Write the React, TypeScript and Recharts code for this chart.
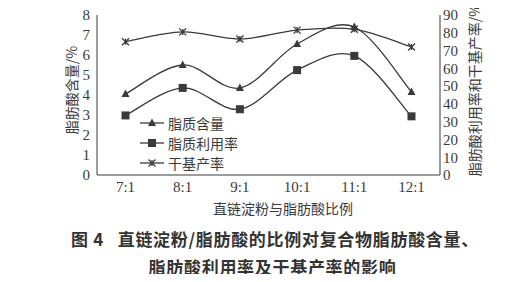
import React from 'react'
import { LineChart, Line, XAxis, YAxis } from 'recharts'

const ratios = ['7:1', '8:1', '9:1', '10:1', '11:1', '12:1']
const fatContent = [4.05, 5.5, 4.35, 6.55, 7.4, 4.15]
const fatUtilization = [33.5, 49, 37, 59, 67, 33]
const dryYield = [75, 80.5, 76.5, 81.5, 82, 72]
const leftTicks = [0, 1, 2, 3, 4, 5, 6, 7, 8]
const rightTicks = [0, 10, 20, 30, 40, 50, 60, 70, 80, 90]
const boundaryTicks = [1, 2, 3, 4, 5]

const data = ratios.map((name, i) => ({
  name,
  fat: fatContent[i],
  util: fatUtilization[i],
  yield: dryYield[i],
}))

const INK = '#3a3a3a'
const serif = '"Liberation Serif", "Times New Roman", serif'
const cjk = '"Noto Sans CJK SC", sans-serif'

// Excel-like smoothing (Catmull-Rom through the points)
const smooth = (context: any) => {
  let pts: number[][] = []
  return {
    areaStart() {},
    areaEnd() {},
    lineStart() { pts = [] },
    point(x: number, y: number) { pts.push([+x, +y]) },
    lineEnd() {
      if (!pts.length) return
      context.moveTo(pts[0][0], pts[0][1])
      for (let i = 0; i < pts.length - 1; i++) {
        const p0 = pts[i - 1] || pts[i]
        const p1 = pts[i]
        const p2 = pts[i + 1]
        const p3 = pts[i + 2] || pts[i + 1]
        context.bezierCurveTo(
          p1[0] + (p2[0] - p0[0]) / 6, p1[1] + (p2[1] - p0[1]) / 6,
          p2[0] - (p3[0] - p1[0]) / 6, p2[1] - (p3[1] - p1[1]) / 6,
          p2[0], p2[1]
        )
      }
    },
  }
}

const Triangle = (props: any) => {
  const { cx, cy, key } = props
  if (cx == null || cy == null) return <g key={key} />
  return <polygon key={key} points={`${cx},${cy - 4.5} ${cx + 4},${cy + 3} ${cx - 4},${cy + 3}`} fill={INK} />
}

const Square = (props: any) => {
  const { cx, cy, key } = props
  if (cx == null || cy == null) return <g key={key} />
  return <rect key={key} x={cx - 4} y={cy - 4} width={8} height={8} fill={INK} />
}

const Cross = (props: any) => {
  const { cx, cy, key } = props
  if (cx == null || cy == null) return <g key={key} />
  return (
    <g key={key} stroke={INK} strokeWidth={1.3}>
      <line x1={cx - 3.5} y1={cy - 3.5} x2={cx + 3.5} y2={cy + 3.5} />
      <line x1={cx - 3.5} y1={cy + 3.5} x2={cx + 3.5} y2={cy - 3.5} />
      <line x1={cx} y1={cy - 3} x2={cx} y2={cy + 3} />
    </g>
  )
}

const legendItems = [
  { label: '脂质含量', Marker: Triangle },
  { label: '脂质利用率', Marker: Square },
  { label: '干基产率', Marker: Cross },
]

export default function App() {
  const tickStyle = { fill: INK, fontSize: 15, fontFamily: serif }
  return (
    <div style={{ position: 'relative', width: 519, height: 282, margin: -8, background: '#fff', overflow: 'hidden' }}>
      <LineChart width={519} height={200} data={data} margin={{ top: 15, right: 40, bottom: 0, left: 50 }}>
        <XAxis
          dataKey="name"
          padding={{ left: 28.5, right: 28.5 }}
          interval={0}
          tickLine={false}
          tickSize={0}
          tickMargin={6}
          height={25}
          stroke={INK}
          tick={tickStyle}
        />
        <XAxis
          xAxisId="bounds"
          type="number"
          domain={[0, 6]}
          ticks={boundaryTicks}
          interval={0}
          mirror
          tick={false}
          axisLine={false}
          tickSize={4}
          stroke={INK}
        />
        <YAxis
          yAxisId="left"
          domain={[0, 8]}
          ticks={leftTicks}
          interval={0}
          width={47}
          tickLine={false}
          tickSize={0}
          tickMargin={7}
          stroke={INK}
          tick={tickStyle}
        />
        <YAxis yAxisId="leftTicks" domain={[0, 8]} ticks={leftTicks} interval={0} mirror tick={false} axisLine={false} tickSize={4} stroke={INK} />
        <YAxis
          yAxisId="right"
          orientation="right"
          domain={[0, 90]}
          ticks={rightTicks}
          interval={0}
          width={39}
          tickLine={false}
          tickSize={0}
          tickMargin={3}
          stroke={INK}
          tick={tickStyle}
        />
        <YAxis yAxisId="rightTicks" orientation="right" domain={[0, 90]} ticks={rightTicks} interval={0} mirror tick={false} axisLine={false} tickSize={4} stroke={INK} />
        <Line yAxisId="left" dataKey="fat" type={smooth as any} stroke={INK} strokeWidth={1.3} dot={Triangle} activeDot={false} isAnimationActive={false} />
        <Line yAxisId="right" dataKey="util" type={smooth as any} stroke={INK} strokeWidth={1.3} dot={Square} activeDot={false} isAnimationActive={false} />
        <Line yAxisId="right" dataKey="yield" type={smooth as any} stroke={INK} strokeWidth={1.3} dot={Cross} activeDot={false} isAnimationActive={false} />
      </LineChart>

      {/* legend */}
      <div style={{ position: 'absolute', left: 140, top: 113, fontFamily: cjk, fontSize: 14, color: INK }}>
        {legendItems.map(({ label, Marker }) => (
          <div key={label} style={{ display: 'flex', alignItems: 'center', height: 20 }}>
            <svg width={24} height={12} style={{ marginRight: 4 }}>
              <line x1={0} y1={6} x2={24} y2={6} stroke={INK} strokeWidth={1.3} />
              <Marker cx={12} cy={6} />
            </svg>
            <span>{label}</span>
          </div>
        ))}
      </div>

      {/* axis titles */}
      <div style={{ position: 'absolute', left: 71, top: 90, transform: 'translate(-50%, -50%) rotate(-90deg)', whiteSpace: 'nowrap', fontFamily: cjk, fontSize: 14, color: INK }}>
        脂肪酸含量/%
      </div>
      <div style={{ position: 'absolute', left: 474, top: 90, transform: 'translate(-50%, -50%) rotate(-90deg)', whiteSpace: 'nowrap', fontFamily: cjk, fontSize: 14, color: INK }}>
        脂肪酸利用率和干基产率/%
      </div>
      <div style={{ position: 'absolute', left: 0, width: 566, top: 198, textAlign: 'center', fontFamily: cjk, fontSize: 14, color: INK }}>
        直链淀粉与脂肪酸比例
      </div>

      {/* caption */}
      <div style={{ position: 'absolute', left: 0, width: 550, top: 227, lineHeight: '24px', textAlign: 'center', fontFamily: cjk, fontSize: 17, fontWeight: 700, letterSpacing: 0.7, color: '#333', whiteSpace: 'pre' }}>
        {'图 4   直链淀粉/脂肪酸的比例对复合物脂肪酸含量、'}
      </div>
      <div style={{ position: 'absolute', left: 0, width: 545, top: 255, lineHeight: '24px', textAlign: 'center', fontFamily: cjk, fontSize: 17, fontWeight: 700, letterSpacing: 0.7, color: '#333' }}>
        脂肪酸利用率及干基产率的影响
      </div>
    </div>
  )
}
